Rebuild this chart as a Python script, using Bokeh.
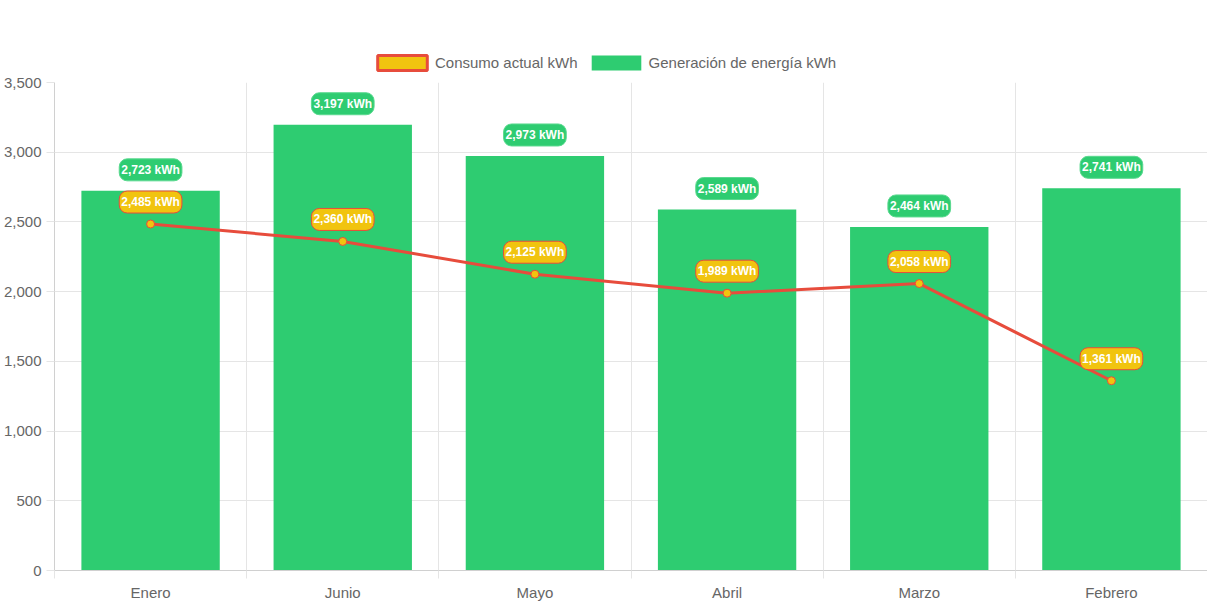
import math
from bokeh.plotting import figure
from bokeh.layouts import column
from bokeh.models import (Range1d, FixedTicker, NumeralTickFormatter, Legend, LegendItem,
                          ColumnDataSource)
from bokeh.core.properties import value
from bokeh.embed import file_html
from bokeh.resources import INLINE

months = ["Enero", "Junio", "Mayo", "Abril", "Marzo", "Febrero"]
generacion = [2723, 3197, 2973, 2589, 2464, 2741]
consumo = [2485, 2360, 2125, 1989, 2058, 1361]
y_ticks = [0, 500, 1000, 1500, 2000, 2500, 3000, 3500]
series_names = ["Consumo actual kWh", "Generación de energía kWh"]

FONT = "Liberation Sans"
GREEN = "#2ecc71"
YELLOW = "#f1c40f"
RED = "#e74c3c"
GRID = "#e5e5e5"
TXT = "#666666"
W = 1207
TOP_H = 74
TOTAL_H = 603

xs = [i + 0.5 for i in range(len(months))]
src = ColumnDataSource(dict(
    x=xs, gen=generacion, con=consumo,
    gen_lbl=[f"{v:,} kWh" for v in generacion],
    con_lbl=[f"{v:,} kWh" for v in consumo],
))

# ---- legend strip ----
lg = figure(width=W, height=TOP_H, output_backend="svg", toolbar_location=None,
            x_range=Range1d(0, 1), y_range=Range1d(0, 1), x_axis_type=None, y_axis_type=None,
            min_border_left=0, min_border_right=0, min_border_top=0, min_border_bottom=0)
lg.outline_line_color = None
lg.xgrid.visible = False
lg.ygrid.visible = False
d1 = lg.vbar(x=[0.5], top=[float("nan")], width=0.5, fill_color=YELLOW, line_color=RED, line_width=3)
d2 = lg.vbar(x=[0.5], top=[float("nan")], width=0.5, fill_color=GREEN, line_color=None)
legend = Legend(items=[LegendItem(label=series_names[0], renderers=[d1]),
                       LegendItem(label=series_names[1], renderers=[d2])],
                orientation="horizontal", location=(317, 2),
                glyph_width=62, glyph_height=19, spacing=7, label_standoff=2,
                label_text_font=FONT, label_text_font_size="15px", label_text_color=TXT,
                border_line_color=None, background_fill_alpha=0, padding=0, margin=0)
lg.add_layout(legend, "center")

# ---- main chart ----
p = figure(width=W, height=TOTAL_H - TOP_H, output_backend="svg", toolbar_location=None,
           x_range=Range1d(0, len(months)), y_range=Range1d(0, 3500),
           min_border_left=54, min_border_right=0, min_border_top=8, min_border_bottom=30)
p.outline_line_color = None

bars = p.vbar(x="x", top="gen", width=0.72, source=src, fill_color=GREEN, line_color=None)
p.line(x="x", y="con", source=src, line_color=RED, line_width=3)
p.scatter(x="x", y="con", source=src, size=8, fill_color=YELLOW, line_color=RED, line_width=1)

common = dict(text_align="center", text_baseline="middle", text_color="white",
              text_font=value(FONT), text_font_style="bold", text_font_size="12px",
              padding=(2, 4), border_radius=8, border_line_width=1)
p.text(x="x", y="gen", text="gen_lbl", source=src, y_offset=-21,
       background_fill_color=GREEN, border_line_color="#5ad98f", **common)
p.text(x="x", y="con", text="con_lbl", source=src, y_offset=-22,
       background_fill_color=YELLOW, border_line_color=RED, **common)

xa = p.xaxis[0]
xa.ticker = FixedTicker(ticks=xs, minor_ticks=list(range(len(months) + 1)))
xa.major_label_overrides = {x: m for x, m in zip(xs, months)}
xa.major_tick_line_color = None
xa.major_tick_out = 8
xa.minor_tick_out = 8
xa.minor_tick_in = 0
xa.minor_tick_line_color = GRID
xa.axis_line_color = "#d0d0d0"
xa.major_label_standoff = 5
xa.major_label_text_font = FONT
xa.major_label_text_font_size = "15px"
xa.major_label_text_color = TXT

ya = p.yaxis[0]
ya.ticker = FixedTicker(ticks=y_ticks)
ya.formatter = NumeralTickFormatter(format="0,0")
ya.major_tick_out = 8
ya.major_tick_in = 0
ya.minor_tick_line_color = None
ya.major_tick_line_color = GRID
ya.axis_line_color = "#d0d0d0"
ya.major_label_standoff = 5
ya.major_label_text_font = FONT
ya.major_label_text_font_size = "15px"
ya.major_label_text_color = TXT

p.xgrid.ticker = FixedTicker(ticks=list(range(len(months) + 1)))
p.xgrid.grid_line_color = GRID
p.ygrid.grid_line_color = GRID

layout = column(lg, p, spacing=0)
open("out.html", "w").write(file_html(layout, INLINE))
